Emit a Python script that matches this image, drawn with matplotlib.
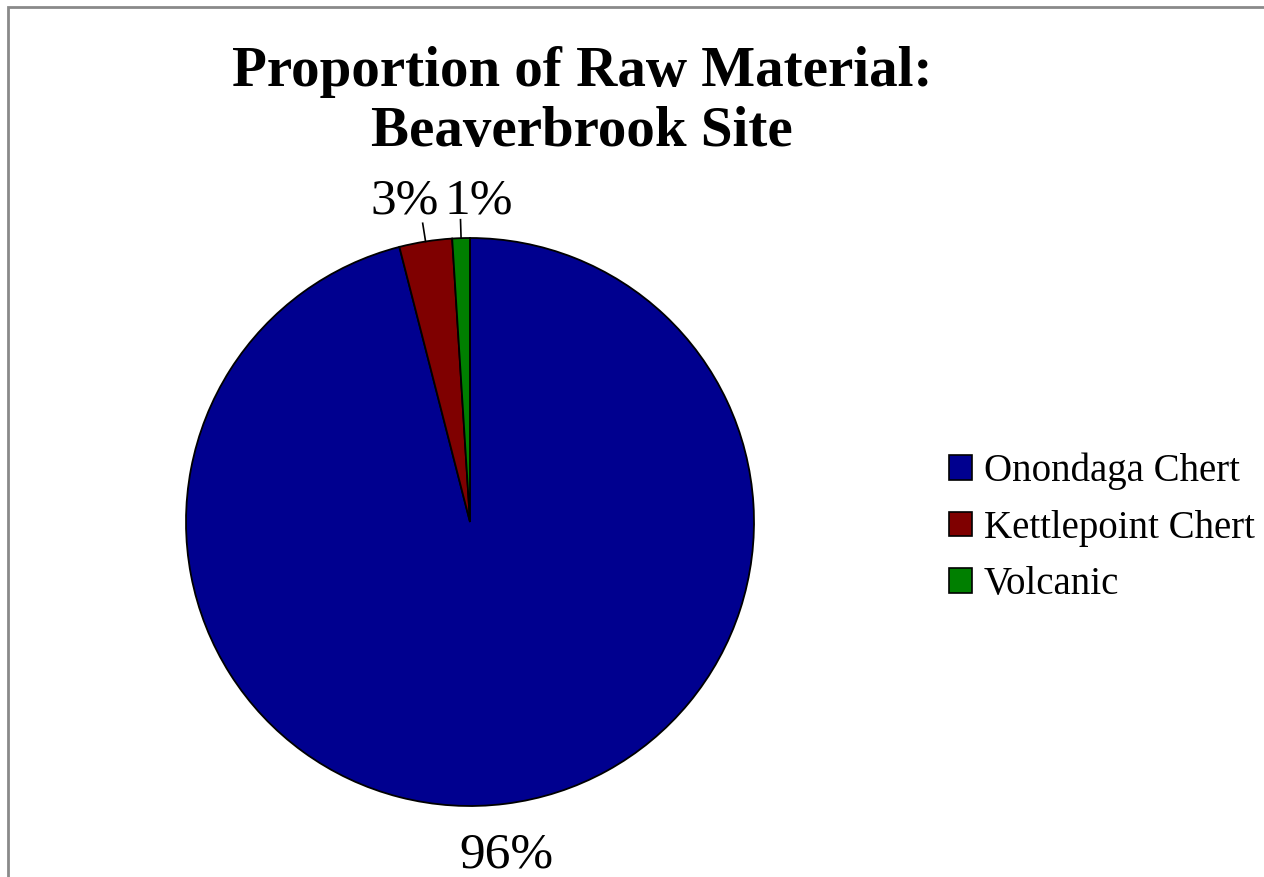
import numpy as np
import matplotlib
matplotlib.use("Agg")
import matplotlib.pyplot as plt
from matplotlib.patches import Rectangle, Patch

###############################################################################

materials = ["Onondaga Chert", "Kettlepoint Chert", "Volcanic"]
shares = [96, 3, 1]
colors = ["#00008F", "#7F0000", "#007F00"]
title = "Proportion of Raw Material:\nBeaverbrook Site"

###############################################################################

W, H = 1264, 877
fig = plt.figure(figsize=(W / 100, H / 100), dpi=100)
serif = "Liberation Serif"

# gray frame, cut off at right and bottom
fig.patches.append(Rectangle((8 / W, -0.1), 1.2, (H - 7) / H + 0.1, transform=fig.transFigure,
                             fill=False, edgecolor="#8a8a8a", linewidth=2))

cx, cy, r = 470, 522, 284
ax = fig.add_axes([(cx - r) / W, (H - cy - r) / H, 2 * r / W, 2 * r / H])

wedges, _ = ax.pie(shares, colors=colors, startangle=90, counterclock=False, radius=1,
                   wedgeprops=dict(edgecolor="black", linewidth=1.3))
ax.set_xlim(-1, 1)
ax.set_ylim(-1, 1)
ax.set_aspect("equal")
ax.axis("off")

# labels: (text x, text y) in axes units
label_pos = [(0.13, -1.175), (-0.23, 1.13), (0.03, 1.13)]
for w, s, (tx, ty) in zip(wedges, shares, label_pos):
    ang = np.deg2rad((w.theta1 + w.theta2) / 2)
    ex, ey = np.cos(ang), np.sin(ang)
    if s < 50:
        ax.plot([ex, ex * 1.065], [ey, ey * 1.065], color="black", lw=1.2, clip_on=False)
    ax.text(tx, ty, "%d%%" % s, ha="center", va="center", fontsize=37, family=serif, clip_on=False)

fig.text(582 / W, 1 - 102 / H, title, ha="center", va="center", fontsize=41, fontweight="bold",
         family=serif, linespacing=1.2)

handles = [Patch(facecolor=c, edgecolor="black", linewidth=1.2) for c in colors]
fig.legend(handles, materials, loc="center left", bbox_to_anchor=(914 / W, 1 - 528 / H),
           frameon=False, prop=dict(family=serif, size=28), handlelength=0.6, handleheight=0.6,
           handletextpad=0.3, labelspacing=0.5)

fig.savefig("out.png", dpi=100)
